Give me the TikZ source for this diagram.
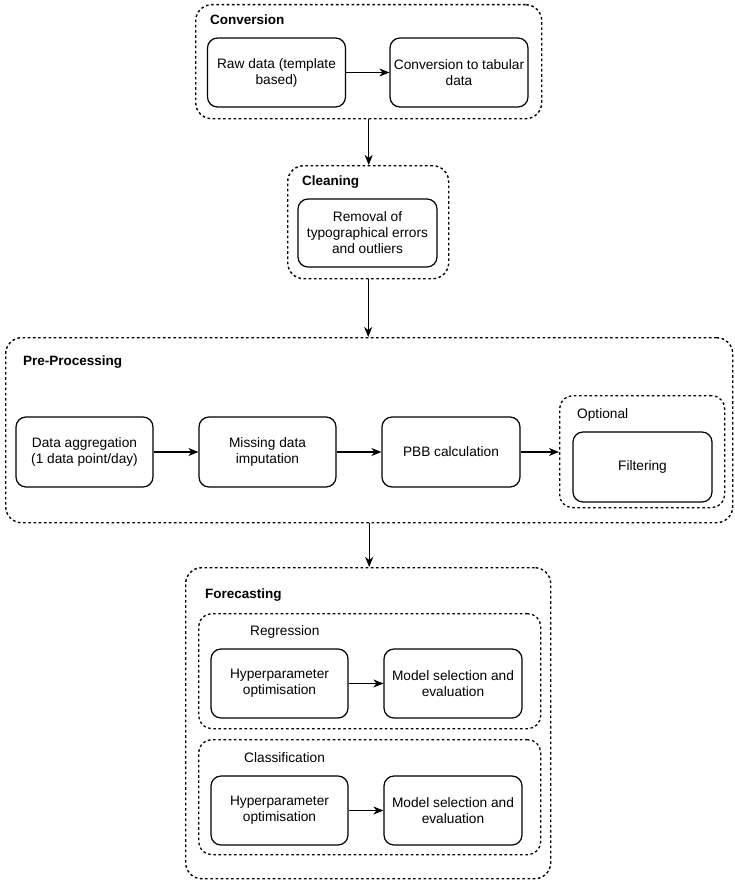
\documentclass[tikz,border=0pt]{standalone}
\usepackage{fontspec}
\setmainfont{Liberation Sans}
\usetikzlibrary{arrows.meta}
\begin{document}
\begin{tikzpicture}[x=1pt,y=-1pt,
  every node/.style={font=\fontsize{13.7}{16}\selectfont, inner sep=0pt},
  outerbox/.style={draw, line width=1.4pt, dash pattern=on 2.6pt off 2.6pt, rounded corners=16pt, anchor=north west},
  midbox/.style={draw, line width=1.3pt, dash pattern=on 2.6pt off 2.6pt, rounded corners=13pt, anchor=north west},
  stepbox/.style={draw, line width=1.2pt, rounded corners=10pt, align=center, minimum width=138pt, minimum height=69pt},
  heading/.style={font=\bfseries\fontsize{13.5}{16}\selectfont, anchor=west},
  sublabel/.style={anchor=west},
  arr/.style={-{Stealth[length=10pt,width=8pt,inset=3pt]}, line width=1.3pt}
]
\useasboundingbox (0,0) rectangle (735,883);

% Conversion
\node[outerbox, minimum width=346pt, minimum height=114pt] (convbox) at (195,4) {};
\node[heading] (convt) at (210,20) {Conversion};
\node[stepbox] (raw) at (276.5,72.5) {Raw data (template\\based)};
\node[stepbox] (tab) at (459,72.5) {Conversion to tabular\\data};
\draw[arr] (raw) -- (tab);

% Cleaning
\node[outerbox, minimum width=161pt, minimum height=113pt] (cleanbox) at (287,165) {};
\node[heading] (cleant) at (302,182) {Cleaning};
\node[stepbox, minimum width=139pt, minimum height=68pt] (clean) at (367.5,233) {Removal of\\typographical errors\\and outliers};

\draw[arr] (convbox.south) -- (convbox.south |- cleanbox.north);

% Pre-Processing
\node[outerbox, minimum width=727pt, minimum height=185pt] (prebox) at (5,337) {};
\node[heading] (pret) at (23,362) {Pre-Processing};
\node[stepbox, minimum width=137pt, minimum height=70pt] (agg) at (84.5,452) {Data aggregation\\(1 data point/day)};
\node[stepbox, minimum width=137pt, minimum height=70pt] (miss) at (267.5,452) {Missing data\\imputation};
\node[stepbox, minimum width=138pt, minimum height=70pt] (pbb) at (451,452) {PBB calculation};
\node[midbox, minimum width=165pt, minimum height=112pt] (optbox) at (559,395) {};
\node[sublabel] (optt) at (577,415) {Optional};
\node[stepbox, minimum width=139pt, minimum height=70pt] (filt) at (642.5,467) {Filtering};
\draw[arr] (agg) -- (miss);
\draw[arr] (miss) -- (pbb);
\draw[arr] (pbb.east) -- (pbb.east -| optbox.west);

\draw[arr] (cleanbox.south) -- (cleanbox.south |- prebox.north);

% Forecasting
\node[outerbox, minimum width=365pt, minimum height=311pt] (forebox) at (185,567) {};
\node[heading] (foret) at (205,595) {Forecasting};

\node[midbox, minimum width=342pt, minimum height=115pt] (regbox) at (198,613) {};
\node[sublabel] (regt) at (250,632) {Regression};
\node[stepbox, minimum width=137pt] (hypa) at (279.5,683.5) {Hyperparameter\\optimisation};
\node[stepbox, minimum width=138pt] (moda) at (453,683.5) {Model selection and\\evaluation};
\draw[arr] (hypa) -- (moda);

\node[midbox, minimum width=342pt, minimum height=115pt] (clsbox) at (198,739) {};
\node[sublabel] (clst) at (244,758) {Classification};
\node[stepbox, minimum width=137pt] (hypb) at (279.5,810.5) {Hyperparameter\\optimisation};
\node[stepbox, minimum width=138pt] (modb) at (453,810.5) {Model selection and\\evaluation};
\draw[arr] (hypb) -- (modb);

\draw[arr] (prebox.south) -- (prebox.south |- forebox.north);
\end{tikzpicture}
\end{document}
